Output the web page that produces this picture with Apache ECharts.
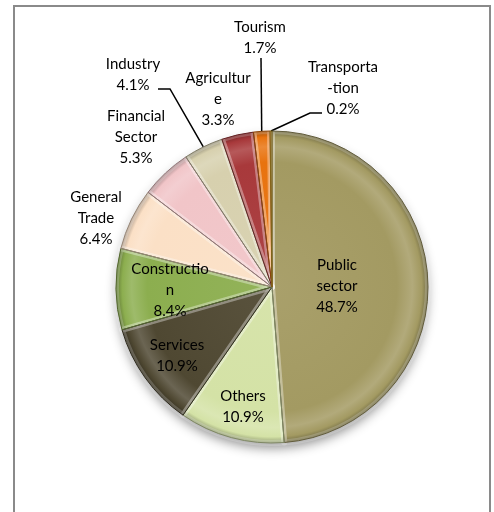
<!DOCTYPE html>
<html>
<head>
<meta charset="utf-8">
<script src="https://cdn.jsdelivr.net/npm/echarts@6/dist/echarts.min.js"></script>
<style>
  html, body { margin: 0; padding: 0; background: #fff; }
  #chart { width: 494px; height: 512px; }
</style>
</head>
<body>
<div id="chart"></div>
<script>
// Employment share by sector (%), clockwise from 12 o'clock
const categories = [
  'Public\nsector', 'Others', 'Services', 'Constructio\nn', 'General\nTrade',
  'Financial\nSector', 'Industry', 'Agricultur\ne', 'Tourism', 'Transporta\n-tion'
];
const shares = [48.7, 10.9, 10.9, 8.4, 6.4, 5.3, 4.1, 3.3, 1.7, 0.2];
const sliceColors = [
  '#a39a62', '#d4e2a6', '#4f4832', '#8cae4f', '#fbe0c6',
  '#f1c5c8', '#d7d0ae', '#a8393b', '#e8730f', '#d6aa2c'
];
// which labels sit inside their slice
const insideLabel = [true, true, true, true, false, false, false, false, false, false];

// label block centres and leader-line bends, in px
const labelSpots = {
  0: { x: 337, y: 286 },
  1: { x: 243, y: 407 },
  2: { x: 177, y: 356 },
  3: { x: 170, y: 290 },
  4: { x: 96,  y: 218 },
  5: { x: 136, y: 137 },
  6: { x: 133, y: 75,  bends: [[170, 89], [158, 89]] },
  7: { x: 218, y: 99 },
  8: { x: 260, y: 38,  bends: [[261, 58]] },
  9: { x: 343, y: 88,  bends: [[310, 113], [322, 113]] }
};
const withLeader = [6, 8, 9];

const CX = 272, CY = 287, R = 156;

function mix(hex, target, t) {
  const n = parseInt(hex.slice(1), 16);
  const r = (n >> 16) & 255, g = (n >> 8) & 255, b = n & 255;
  const m = c => Math.round(c + (target - c) * t);
  return 'rgb(' + m(r) + ',' + m(g) + ',' + m(b) + ')';
}
const lighten = (h, t) => mix(h, 255, t);
const darken = (h, t) => mix(h, 0, t);

function bevelFill(base) {
  return {
    type: 'radial', x: CX, y: CY, r: R, global: true,
    colorStops: [
      { offset: 0, color: lighten(base, 0.06) },
      { offset: 0.8, color: base },
      { offset: 0.9, color: lighten(base, 0.16) },
      { offset: 0.96, color: base },
      { offset: 1, color: darken(base, 0.3) }
    ]
  };
}

const baseSlices = categories.map((name, i) => ({
  name: name,
  value: shares[i],
  itemStyle: { color: bevelFill(sliceColors[i]) }
}));

const edgeSlices = categories.map((name, i) => ({
  name: name,
  value: shares[i],
  itemStyle: {
    color: 'rgba(0,0,0,0)',
    borderColor: darken(sliceColors[i], 0.4),
    borderWidth: 1
  },
  label: { position: insideLabel[i] ? 'inside' : 'outside' },
  labelLine: { show: withLeader.indexOf(i) >= 0 }
}));

const common = {
  type: 'pie',
  center: [CX, CY],
  radius: R,
  startAngle: 90,
  clockwise: true,
  avoidLabelOverlap: false
};

const chart = echarts.init(document.getElementById('chart'), null, { renderer: 'canvas' });
chart.setOption({
  backgroundColor: '#ffffff',
  animation: false,
  graphic: [{
    type: 'rect',
    shape: { x: 14, y: 6, width: 476, height: 600 },
    style: { fill: 'none', stroke: '#8a8a8a', lineWidth: 2 },
    z: 0
  }],
  series: [
    {
      // soft drop shadow under the whole disc
      type: 'pie',
      silent: true,
      center: [CX, CY],
      radius: R - 1,
      z: 1,
      label: { show: false },
      labelLine: { show: false },
      itemStyle: {
        color: '#ffffff',
        shadowBlur: 12,
        shadowOffsetY: 6,
        shadowColor: 'rgba(0,0,0,0.45)'
      },
      data: [{ value: 1 }]
    },
    Object.assign({}, common, {
      // slice fills
      z: 2,
      silent: true,
      label: { show: false },
      labelLine: { show: false },
      data: baseSlices
    }),
    Object.assign({}, common, {
      // soft highlight along every slice edge
      z: 3,
      silent: true,
      label: { show: false },
      labelLine: { show: false },
      itemStyle: {
        color: 'rgba(0,0,0,0)',
        borderColor: 'rgba(255,255,255,0.2)',
        borderWidth: 6
      },
      data: shares.map(v => ({ value: v }))
    }),
    Object.assign({}, common, {
      // crisp slice outlines and the labels
      z: 4,
      label: {
        show: true,
        formatter: p => p.name + '\n' + p.value.toFixed(1) + '%',
        fontFamily: 'Lato, "Open Sans", sans-serif',
        fontSize: 15,
        lineHeight: 21,
        color: '#000',
        align: 'center'
      },
      labelLine: {
        show: false,
        length: 10,
        length2: 10,
        lineStyle: { color: '#000', width: 1.5 }
      },
      labelLayout: function (params) {
        const spot = labelSpots[params.dataIndex];
        const out = { x: spot.x, y: spot.y, align: 'center', verticalAlign: 'middle' };
        if (spot.bends && params.labelLinePoints) {
          out.labelLinePoints = [params.labelLinePoints[0]].concat(spot.bends);
        }
        return out;
      },
      data: edgeSlices
    })
  ]
});
</script>
</body>
</html>
